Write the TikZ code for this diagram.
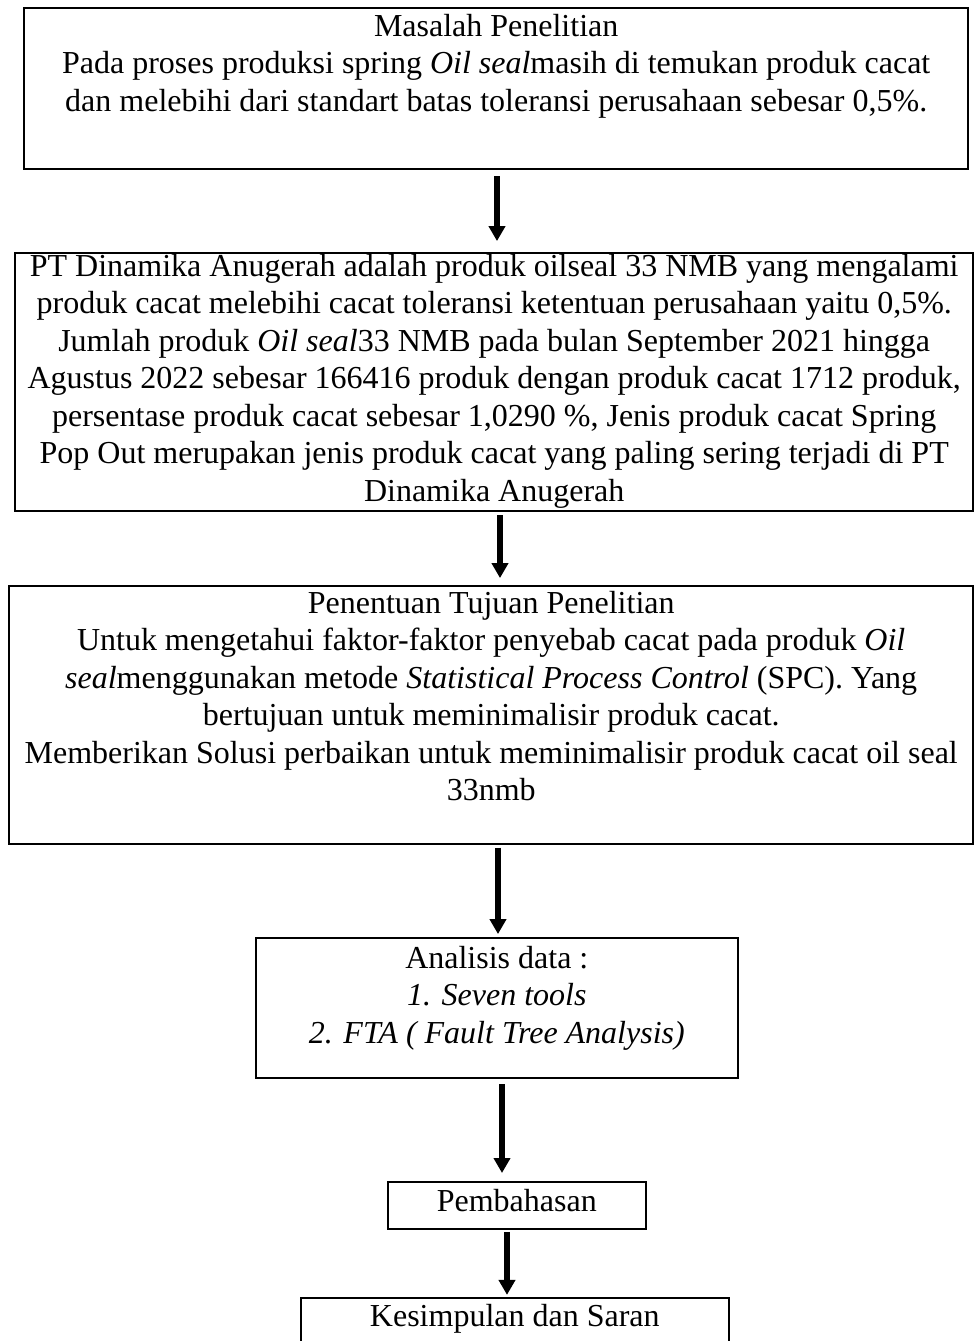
\documentclass[tikz,border=0pt]{standalone}
\usepackage{fontspec}
\setmainfont{Liberation Serif}
\usetikzlibrary{arrows.meta}
\newlength{\pxu}
\setlength{\pxu}{0.375pt}
% width, height, top pad, text
\newcommand{\flowtext}[4]{\parbox[t][#2\pxu][t]{#1\pxu}{\centering\vspace*{#3\pxu}#4}}

\begin{document}
\begin{tikzpicture}[
  x=0.375pt, y=-0.375pt,
  box/.style={draw, line width=0.9pt, anchor=north west, inner sep=0pt,
    font=\fontsize{12}{14.06}\selectfont},
  smallbox/.style={box, line width=0.6pt},
  arr/.style={-{Triangle[width=6pt,length=5.6pt]}, line width=1.9pt},
]
\useasboundingbox (0,0) rectangle (974,1341);

\node[box] (masalah) at (23,7) {\flowtext{944}{161}{6}{%
  Masalah Penelitian\\
  Pada proses produksi spring \textit{Oil seal}masih di temukan produk cacat\\
  dan melebihi dari standart batas toleransi perusahaan sebesar 0,5\%.}};
\node[box] (kondisi) at (14,252) {\flowtext{958}{258}{1}{%
  PT Dinamika Anugerah adalah produk oilseal 33 NMB yang mengalami\\
  produk cacat melebihi cacat toleransi ketentuan perusahaan yaitu 0,5\%.\\
  Jumlah produk \textit{Oil seal}33 NMB pada bulan September 2021 hingga\\
  Agustus 2022 sebesar 166416 produk dengan produk cacat 1712 produk,\\
  persentase produk cacat sebesar 1,0290 \%, Jenis produk cacat Spring\\
  Pop Out merupakan jenis produk cacat yang paling sering terjadi di PT\\
  Dinamika Anugerah}};
\node[box] (tujuan) at (8,585) {\flowtext{964}{258}{5}{%
  Penentuan Tujuan Penelitian\\
  Untuk mengetahui faktor-faktor penyebab cacat pada produk \textit{Oil}\\
  \textit{seal}menggunakan metode \textit{Statistical Process Control} (SPC). Yang\\
  bertujuan untuk meminimalisir produk cacat.\\
  Memberikan Solusi perbaikan untuk meminimalisir produk cacat oil seal\\
  33nmb}};
\node[smallbox] (analisis) at (255,937) {\flowtext{482}{140}{8}{%
  Analisis data :\\
  \textit{1. Seven tools}\\
  \textit{2. FTA ( Fault Tree Analysis)}}};
\node[smallbox] (bahas) at (387,1181) {\flowtext{258}{47}{7}{Pembahasan}};
\node[smallbox] (simpulan) at (300,1297) {\flowtext{428}{70}{6}{Kesimpulan dan Saran}};

\draw[arr, shorten <=2.2pt, shorten >=4.1pt] (masalah.south -| 497,0) -- (kondisi.north -| 497,0);
\draw[arr, shorten <=1.1pt, shorten >=2.6pt] (kondisi.south -| 500,0) -- (tujuan.north -| 500,0);
\draw[arr, shorten <=0.8pt, shorten >=1.1pt] (tujuan.south -| 498,0) -- (analisis.north -| 498,0);
\draw[arr, shorten <=2.2pt, shorten >=3pt] (analisis.south -| 502,0) -- (bahas.north -| 502,0);
\draw[arr, shorten <=0.8pt, shorten >=0.8pt] (bahas.south -| 507,0) -- (simpulan.north -| 507,0);
\end{tikzpicture}
\end{document}
